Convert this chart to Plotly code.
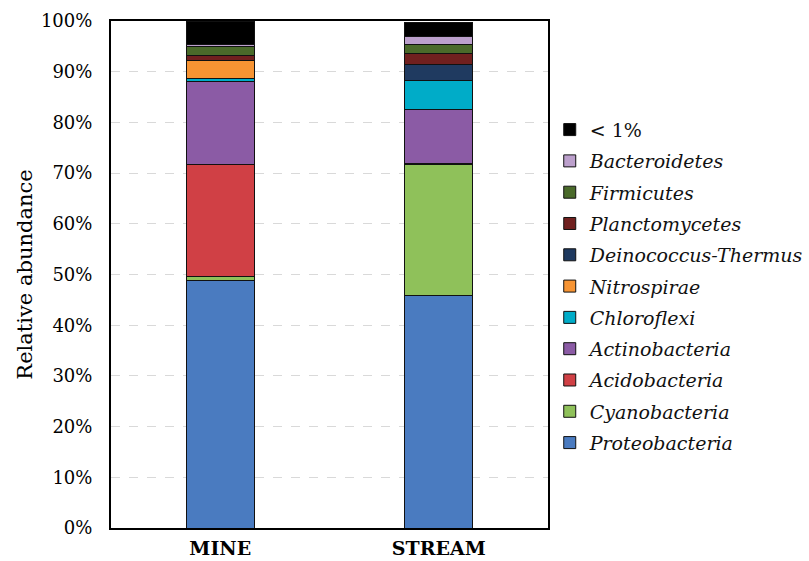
import plotly.graph_objects as go

sites = ["MINE", "STREAM"]
phyla = ["Proteobacteria", "Cyanobacteria", "Acidobacteria", "Actinobacteria",
         "Chloroflexi", "Nitrospirae", "Deinococcus-Thermus", "Planctomycetes",
         "Firmicutes", "Bacteroidetes", "< 1%"]
mine = [48.9, 0.8, 22.0, 16.3, 0.7, 3.5, 0.0, 0.9, 1.8, 0.5, 4.6]
stream = [45.8, 25.8, 0.3, 10.7, 5.6, 0.0, 3.2, 2.2, 1.8, 1.6, 2.8]
colors = ["#4a7bc0", "#8fc15a", "#d04045", "#8b5ba5", "#00acc8", "#f79433",
          "#1f3a60", "#70201f", "#4a6a2a", "#bca0cc", "#000000"]
yticks = [0, 10, 20, 30, 40, 50, 60, 70, 80, 90, 100]

FONT = "DejaVu Serif"
fig = go.Figure()
for i, name in enumerate(phyla):
    label = name if name == "< 1%" else f"<i>{name}</i>"
    fig.add_trace(go.Bar(
        x=sites, y=[mine[i], stream[i]], name=label, legendgroup=name,
        legendrank=1000 - i,
        marker=dict(color=colors[i], line=dict(color="#111111", width=1)),
        width=0.31,
    ))

fig.update_layout(
    barmode="stack",
    width=809, height=561,
    margin=dict(l=111, r=261, t=21, b=33, autoexpand=False),
    plot_bgcolor="white", paper_bgcolor="white",
    font=dict(family=FONT, color="#111111"),
    showlegend=True,
    legend=dict(x=1.004, y=0.823, xanchor="left", yanchor="top",
                traceorder="grouped", tracegroupgap=3.6,
                font=dict(family=FONT, size=19), itemwidth=30,
                bgcolor="rgba(0,0,0,0)"),
    xaxis=dict(showline=True, linecolor="black", linewidth=2, mirror=True,
               automargin=False, ticklabelstandoff=2,
               tickfont=dict(family=FONT, size=19, color="black"),
               ticks="", tickprefix="<b>", ticksuffix="</b>"),
    yaxis=dict(range=[0, 100], tickvals=yticks,
               ticktext=[f"{v}%" for v in yticks],
               automargin=False, ticklabelstandoff=13,
               showline=True, linecolor="black", linewidth=2, mirror=True,
               showgrid=True, gridcolor="#d9d9d9", griddash="dash", gridwidth=1,
               tickfont=dict(family=FONT, size=18, color="black"),
               title=dict(text="Relative abundance", font=dict(family=FONT, size=21, color="black"),
                          standoff=3),
               zeroline=False),
)
fig.write_html("out.html", config={"displayModeBar": False},
               post_script="document.body.style.margin='0';")
